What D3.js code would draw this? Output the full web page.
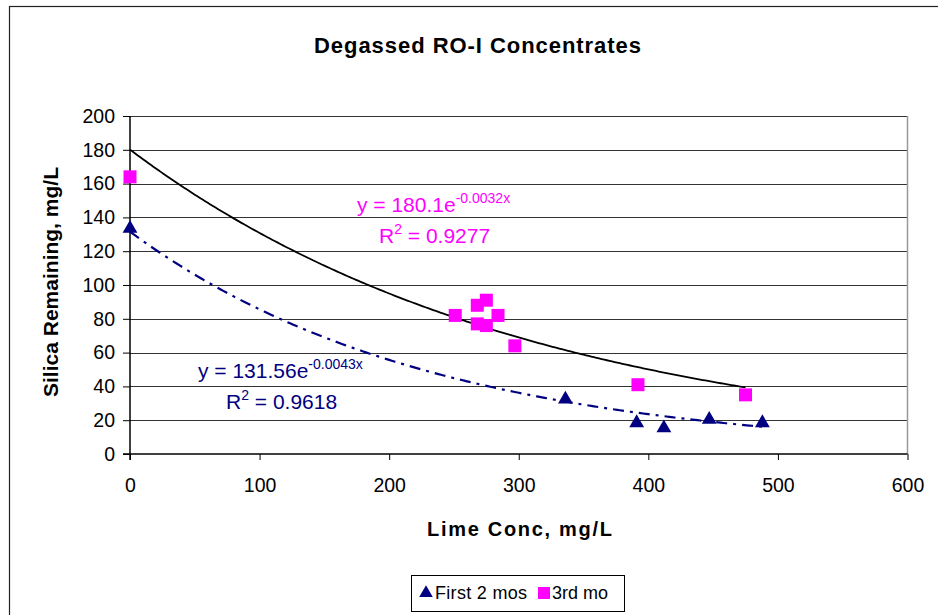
<!DOCTYPE html>
<html lang="en">
<head>
    <meta charset="UTF-8">
    <title>Degassed RO-I Concentrates</title>
    <script src="https://d3js.org/d3.v7.min.js"></script>
    <style>
        body { margin: 0; background: #fff; }
        svg text { font-family: "Liberation Sans", Arial, sans-serif; }
    </style>
</head>
<body>
    <svg id="chart" width="938" height="615"></svg>
    <script>
        // First 2 mos (triangles)
        const first2X = [0, 336, 391, 412, 447, 488];
        const first2Y = [134, 33, 19, 16, 21, 19];
        // 3rd mo (squares)
        const thirdX = [0, 251, 268, 275, 284, 268, 275, 297, 392, 475];
        const thirdY = [164, 82, 88, 91, 82, 77, 76, 64, 41, 35];

        // exponential trendlines: y = a * e^(b x)
        const thirdFit = { a: 180.1, b: -0.0032, xMax: 475, label: "180.1e", exp: "-0.0032x", r2: "0.9277" };
        const first2Fit = { a: 131.56, b: -0.0043, xMax: 488, label: "131.56e", exp: "-0.0043x", r2: "0.9618" };

        const xTicks = [0, 100, 200, 300, 400, 500, 600];
        const yTicks = [0, 20, 40, 60, 80, 100, 120, 140, 160, 180, 200];

        const navy = "#000080";
        const magenta = "#FF00FF";

        const svg = d3.select("#chart");

        // outer chart border (runs past right/bottom edge)
        svg.append("rect")
            .attr("x", 9.5).attr("y", 6.5)
            .attr("width", 960).attr("height", 700)
            .attr("fill", "none").attr("stroke", "#222").attr("stroke-width", 1.2);

        const x = d3.scaleLinear().domain([0, 600]).range([130, 907.5]);
        const y = d3.scaleLinear().domain([0, 200]).range([454, 116]);

        // gridlines
        svg.append("g").selectAll("line")
            .data(yTicks.filter(d => d > 0))
            .enter().append("line")
            .attr("x1", x(0)).attr("x2", x(600))
            .attr("y1", d => Math.round(y(d)) + 0.5)
            .attr("y2", d => Math.round(y(d)) + 0.5)
            .attr("stroke", "#333").attr("stroke-width", 1);

        // right side of plot area
        svg.append("line")
            .attr("x1", x(600)).attr("x2", x(600))
            .attr("y1", y(200)).attr("y2", y(0))
            .attr("stroke", "#999").attr("stroke-width", 1.5);

        // axes
        const yAxis = svg.append("g")
            .attr("transform", `translate(${x(0)},0)`)
            .call(d3.axisLeft(y).tickValues(yTicks).tickSize(7).tickPadding(8));
        const xAxis = svg.append("g")
            .attr("transform", `translate(0,${y(0)})`)
            .call(d3.axisBottom(x).tickValues(xTicks).tickSize(6).tickPadding(18));
        [yAxis, xAxis].forEach(g => {
            g.select(".domain").attr("stroke", "#000").attr("stroke-width", 1.5);
            g.selectAll(".tick line").attr("stroke", "#000");
            g.selectAll("text").attr("font-size", 19.5).attr("fill", "#000")
                .style("font-family", "'Liberation Sans', Arial, sans-serif");
        });
        yAxis.select(".domain").attr("d", `M0,${y(0) + 6}V${y(200)}`);
        xAxis.select(".domain").attr("d", `M${x(0) - 7},0H${x(600)}`);

        // trendlines
        function curve(fit) {
            const pts = d3.range(0, fit.xMax, 2).concat([fit.xMax]);
            return d3.line()
                .x(d => x(d))
                .y(d => y(fit.a * Math.exp(fit.b * d)))(pts);
        }
        svg.append("path")
            .attr("d", curve(thirdFit))
            .attr("fill", "none").attr("stroke", "#000").attr("stroke-width", 1.8);
        svg.append("path")
            .attr("d", curve(first2Fit))
            .attr("fill", "none").attr("stroke", navy).attr("stroke-width", 2.2)
            .attr("stroke-dasharray", "11,6,3,6");

        // markers
        const tri = d3.symbol().type(d3.symbolTriangle).size(95);
        svg.append("g").selectAll("path")
            .data(first2X.map((d, i) => [d, first2Y[i]]))
            .enter().append("path")
            .attr("d", tri)
            .attr("transform", d => `translate(${x(d[0])},${y(d[1]) + 1})`)
            .attr("fill", navy);
        svg.append("g").selectAll("rect")
            .data(thirdX.map((d, i) => [d, thirdY[i]]))
            .enter().append("rect")
            .attr("x", d => x(d[0]) - 6.5).attr("y", d => y(d[1]) - 6.5)
            .attr("width", 13).attr("height", 13)
            .attr("fill", magenta);

        // trendline labels
        function eqLabel(fit, color, x0, y0, rx, ry, w1, w2) {
            const t = svg.append("text")
                .attr("x", x0).attr("y", y0)
                .attr("font-size", 21).attr("fill", color);
            t.append("tspan").attr("textLength", w1).text("y = " + fit.label);
            t.append("tspan").attr("font-size", 14).attr("dy", -9).text(fit.exp);
            const r = svg.append("text")
                .attr("x", rx).attr("y", ry)
                .attr("font-size", 21).attr("fill", color);
            r.append("tspan").text("R");
            r.append("tspan").attr("font-size", 14).attr("dy", -9).text("2");
            r.append("tspan").attr("dy", 9).text(" = " + fit.r2);
        }
        eqLabel(thirdFit, magenta, 357, 212, 379, 243);
        eqLabel(first2Fit, navy, 198, 378, 226, 409);

        // titles
        svg.append("text")
            .attr("x", 314).attr("y", 53)
            .attr("font-size", 22).attr("font-weight", "bold")
            .attr("textLength", 327).attr("lengthAdjust", "spacing")
            .text("Degassed RO-I Concentrates");
        svg.append("text")
            .attr("x", 427).attr("y", 536)
            .attr("font-size", 20).attr("font-weight", "bold")
            .attr("textLength", 185).attr("lengthAdjust", "spacing")
            .text("Lime Conc, mg/L");
        svg.append("text")
            .attr("transform", "translate(58,397) rotate(-90)")
            .attr("font-size", 21).attr("font-weight", "bold")
            .attr("textLength", 230).attr("lengthAdjust", "spacing")
            .text("Silica Remaining, mg/L");

        // legend
        const lg = svg.append("g");
        lg.append("rect")
            .attr("x", 411.5).attr("y", 575.5)
            .attr("width", 213).attr("height", 36)
            .attr("fill", "#fff").attr("stroke", "#000").attr("stroke-width", 1);
        lg.append("path")
            .attr("d", d3.symbol().type(d3.symbolTriangle).size(80))
            .attr("transform", "translate(426,593)")
            .attr("fill", navy);
        lg.append("text")
            .attr("x", 435).attr("y", 599)
            .attr("font-size", 18)
            .attr("textLength", 92).attr("lengthAdjust", "spacing")
            .text("First 2 mos");
        lg.append("rect")
            .attr("x", 538).attr("y", 587)
            .attr("width", 12).attr("height", 12)
            .attr("fill", magenta);
        lg.append("text")
            .attr("x", 552).attr("y", 599)
            .attr("font-size", 18)
            .text("3rd mo");
    </script>
</body>
</html>
